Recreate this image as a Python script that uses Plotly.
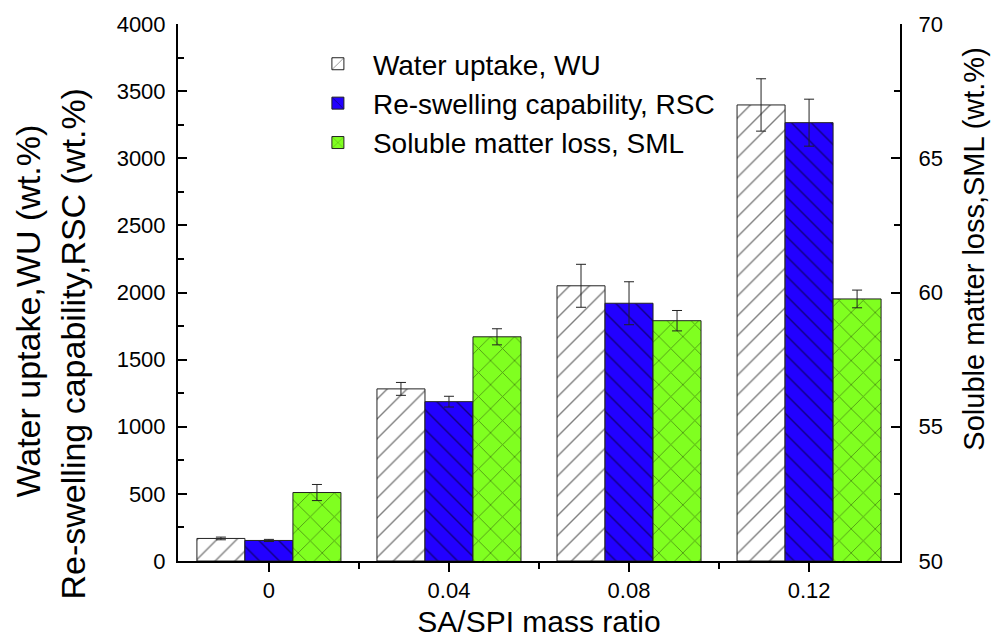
import plotly.graph_objects as go

categories = ["0", "0.04", "0.08", "0.12"]
wu = [168, 1282, 2050, 3397]
wu_err = [10, 48, 160, 195]
rsc = [153, 1187, 1920, 3265]
rsc_err = [8, 40, 160, 175]
sml = [52.55, 58.35, 58.95, 59.76]
sml_err = [0.30, 0.30, 0.38, 0.33]

xpos = list(range(len(categories)))
FONT = "Liberation Sans, Arial, sans-serif"
W = 0.8 / 3

fig = go.Figure()
fig.add_trace(go.Bar(
    x=xpos, y=wu, name="Water uptake, WU", width=W, offset=-0.4,
    marker=dict(color="white", line=dict(color="#222", width=1),
                pattern=dict(shape="/", fgcolor="#000", bgcolor="white", size=14, solidity=0.1)),
    error_y=dict(type="data", array=wu_err, color="#222", thickness=1, width=5),
))
fig.add_trace(go.Bar(
    x=xpos, y=rsc, name="Re-swelling capability, RSC", width=W, offset=-0.4 + W,
    marker=dict(color="#2200ff", line=dict(color="#222", width=1),
                pattern=dict(shape="\\", fgcolor="#000", bgcolor="#2200ff", size=14, solidity=0.1)),
    error_y=dict(type="data", array=rsc_err, color="#222", thickness=1, width=5),
))
fig.add_trace(go.Bar(
    x=xpos, y=sml, name="Soluble matter loss, SML", width=W, offset=-0.4 + 2 * W, yaxis="y2",
    base=0,
    marker=dict(color="#80ff20", line=dict(color="#222", width=1),
                pattern=dict(shape="x", fgcolor="#1a2e05", bgcolor="#80ff20", size=17, solidity=0.1)),
    error_y=dict(type="data", array=sml_err, color="#222", thickness=1, width=5),
))

fig.update_layout(
    width=993, height=642,
    margin=dict(l=178, r=93, t=22, b=81),
    paper_bgcolor="white", plot_bgcolor="white",
    barmode="overlay",
    font=dict(family=FONT, size=22, color="black"),
    showlegend=True,
    legend=dict(x=0.173, y=0.972, xanchor="left", yanchor="top",
                font=dict(size=28, family=FONT), bgcolor="rgba(0,0,0,0)",
                itemwidth=60, tracegroupgap=0, traceorder="normal"),
    xaxis=dict(range=[-0.505, 3.505], tickmode="array", tickvals=xpos, ticktext=categories,
               ticks="outside", ticklen=9, tickwidth=2, tickcolor="black",
               showline=True, linecolor="black", linewidth=2, showgrid=False, zeroline=False,
               tickfont=dict(size=22), automargin=False,
               minor=dict(tickmode="array", tickvals=[0.5, 1.5, 2.5], ticks="outside",
                          ticklen=6, tickwidth=2, tickcolor="black"),
               title=dict(text="SA/SPI mass ratio", font=dict(size=30), standoff=9)),
    xaxis2=dict(range=[-0.505, 3.505], overlaying="x", anchor="y", side="top",
                tickmode="array", tickvals=xpos, ticktext=["", "", "", ""],
                ticks="inside", ticklen=9, tickwidth=2, tickcolor="black",
                showline=True, linecolor="black", linewidth=2, showgrid=False, zeroline=False),
    yaxis=dict(range=[0, 4000], dtick=500, ticks="inside", ticklen=9, tickwidth=2,
               tickcolor="black", showline=True, linecolor="black", linewidth=2,
               showgrid=False, zeroline=False, tickfont=dict(size=22), ticklabelstandoff=6,
               minor=dict(dtick=250, ticks="inside", ticklen=6, tickwidth=2, tickcolor="black")),
    yaxis2=dict(range=[50, 70], dtick=5, overlaying="y", side="right", anchor="x",
                ticks="inside", ticklen=9, tickwidth=2, tickcolor="black",
                showline=True, linecolor="black", linewidth=2, showgrid=False, zeroline=False,
                tickfont=dict(size=22), ticklabelstandoff=12,
                minor=dict(dtick=2.5, ticks="inside", ticklen=6, tickwidth=2, tickcolor="black")),
    annotations=[
        dict(text="Water uptake,WU (wt.%)", textangle=-90, xref="paper", yref="paper",
             x=-0.208, y=0.466, xanchor="center", yanchor="middle", showarrow=False,
             font=dict(size=34, family=FONT)),
        dict(text="Re-swelling capability,RSC (wt.%)", textangle=-90, xref="paper", yref="paper",
             x=-0.1455, y=0.405, xanchor="center", yanchor="middle", showarrow=False,
             font=dict(size=34, family=FONT)),
        dict(text="Soluble matter loss,SML (wt.%)", textangle=-90, xref="paper", yref="paper",
             x=1.102, y=0.581, xanchor="center", yanchor="middle", showarrow=False,
             font=dict(size=29, family=FONT)),
    ],
)

fig.write_html("out.html")
